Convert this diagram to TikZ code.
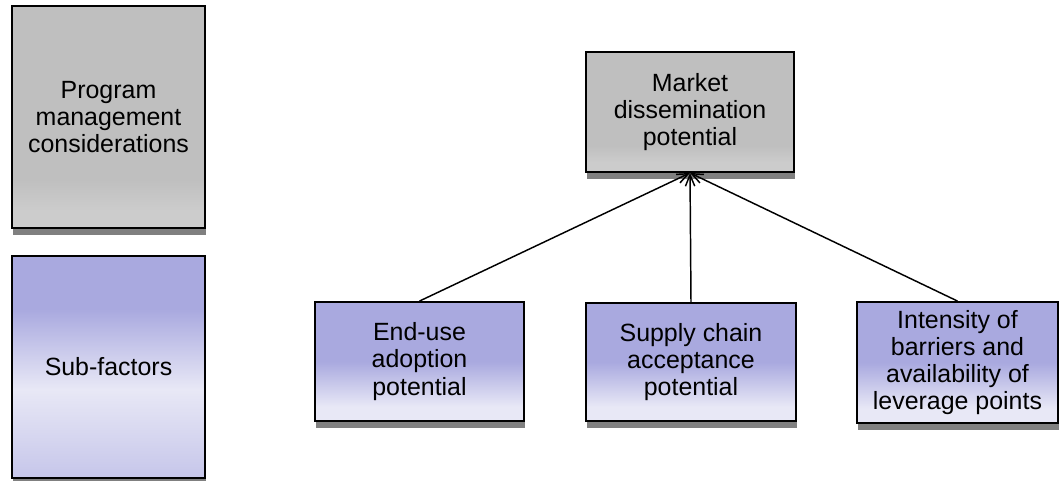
\documentclass[tikz,border=0pt]{standalone}
\usepackage{fontspec}
\setmainfont{Liberation Sans}
\usetikzlibrary{arrows.meta,shadows}
\definecolor{gbase}{HTML}{BFBFBF}
\definecolor{glight}{HTML}{CCCCCC}
\definecolor{bdark}{HTML}{A9A9DF}
\definecolor{blight}{HTML}{E8E8F6}
\definecolor{bbottom}{HTML}{C6C6EA}
\definecolor{shadowgray}{HTML}{808080}
\pgfdeclareverticalshading{grayshade}{100bp}{color(0bp)=(glight); color(25bp)=(glight); color(29bp)=(glight); color(36bp)=(gbase); color(75bp)=(gbase); color(100bp)=(gbase)}
\pgfdeclareverticalshading{subshade}{100bp}{color(0bp)=(bbottom); color(25bp)=(bbottom); color(45bp)=(blight); color(63bp)=(bdark); color(75bp)=(bdark); color(100bp)=(bdark)}
\pgfdeclareverticalshading{lowshade}{100bp}{color(0bp)=(blight); color(25bp)=(blight); color(31bp)=(blight); color(50bp)=(bdark); color(75bp)=(bdark); color(100bp)=(bdark)}
\tikzset{
  boxbase/.style={rectangle, draw=black, line width=1.4pt, align=center,
    font=\fontsize{18.7}{20.3}\selectfont, inner sep=0pt,
    general shadow={fill=shadowgray, shadow xshift=1pt, shadow yshift=-5pt}},
  graybox/.style={boxbase, shading=grayshade},
  subbox/.style={boxbase, shading=subshade},
  lowbox/.style={boxbase, shading=lowshade},
  conn/.style={line width=1.1pt, -{Straight Barb[length=8.5pt,width=7pt]}}
}
\begin{document}
\begin{tikzpicture}[x=0.75pt,y=-0.75pt]
\useasboundingbox (0,0) rectangle (1060,480);
\node[graybox, minimum width=144.75pt, minimum height=166.5pt] (prog) at (108.5,117) {Program\\management\\considerations};
\node[subbox, minimum width=144.75pt, minimum height=166.5pt] (sub) at (108.5,367) {Sub-factors};
\node[graybox, minimum width=156pt, minimum height=90pt] (market) at (690,112) {Market\\dissemination\\potential};
\node[lowbox, minimum width=156.75pt, minimum height=89.25pt] (enduse) at (419.5,361.5) {End-use\\adoption\\potential};
\node[lowbox, minimum width=157.5pt, minimum height=88.5pt] (supply) at (691,362) {Supply chain\\acceptance\\potential};
\node[lowbox, minimum width=150.75pt, minimum height=90.75pt] (intens) at (957.5,362.5) {Intensity of\\barriers and\\availability of\\leverage points};
\draw[conn] (enduse.north) -- (market.south);
\draw[conn] (supply.north) -- (market.south);
\draw[conn] (intens.north) -- (market.south);
\end{tikzpicture}
\end{document}
